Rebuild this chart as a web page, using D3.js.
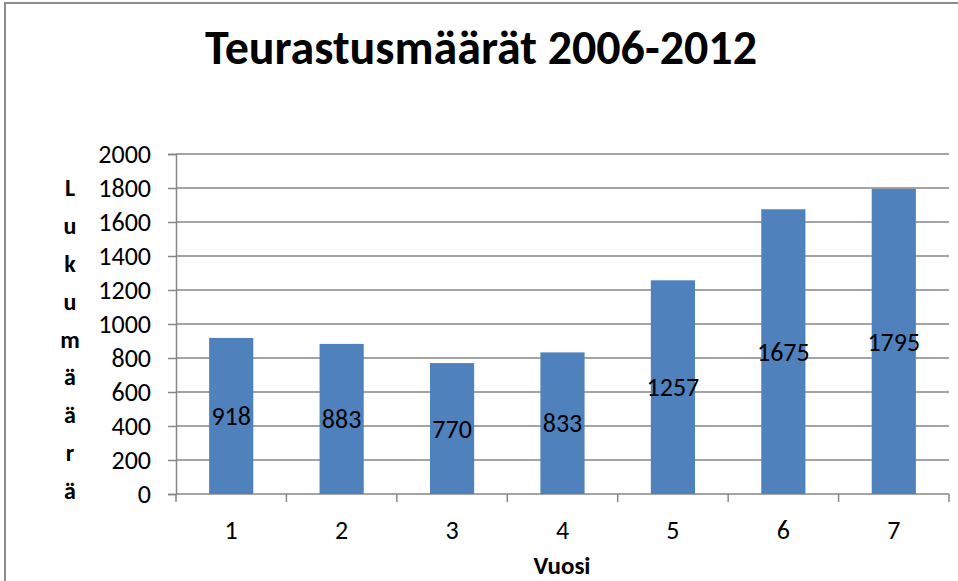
<!DOCTYPE html>
<html>
<head>
<meta charset="utf-8">
<script src="https://cdn.jsdelivr.net/npm/d3@7"></script>
<style>
  body { margin: 0; background: #fff; }
  text { font-family: Carlito, 'Liberation Sans', sans-serif; }
</style>
</head>
<body>
<div id="chart"></div>
<script>
// Data
const years = ['1', '2', '3', '4', '5', '6', '7'];
const counts = [918, 883, 770, 833, 1257, 1675, 1795];
const yTicks = [0, 200, 400, 600, 800, 1000, 1200, 1400, 1600, 1800, 2000];
const yTitleLetters = ['L', 'u', 'k', 'u', 'm', 'ä', 'ä', 'r', 'ä'];

const width = 958;
const height = 581;
const margin = { top: 154, right: 9, bottom: 87, left: 176 };
const gridColor = '#868686';
const font = "Carlito, 'Liberation Sans', sans-serif";

const svg = d3.select('#chart')
  .append('svg')
  .attr('width', width)
  .attr('height', height);

// Outer frame (right and bottom edges fall outside the view)
svg.append('rect')
  .attr('x', 5)
  .attr('y', 3)
  .attr('width', 960)
  .attr('height', 600)
  .attr('fill', 'none')
  .attr('stroke', '#8c8c8c')
  .attr('stroke-width', 2);

// Title
svg.append('text')
  .attr('x', 481)
  .attr('y', 64)
  .attr('text-anchor', 'middle')
  .style('font-size', '48px')
  .style('font-weight', 'bold')
  .text('Teurastusmäärät 2006-2012');

// Scales
const x = d3.scaleBand()
  .domain(years)
  .range([margin.left, width - margin.right]);

const y = d3.scaleLinear()
  .domain([0, 2000])
  .range([height - margin.bottom, margin.top]);

const x0 = margin.left;
const x1 = width - margin.right;
const yBase = y(0);

// Gridlines
svg.selectAll('.grid')
  .data(yTicks.filter(d => d > 0))
  .enter()
  .append('line')
  .attr('class', 'grid')
  .attr('x1', x0)
  .attr('x2', x1)
  .attr('y1', d => y(d))
  .attr('y2', d => y(d))
  .attr('stroke', gridColor)
  .attr('stroke-width', 1.5);

// Y axis
const yAxis = svg.append('g')
  .attr('transform', `translate(${x0},0)`)
  .call(d3.axisLeft(y).tickValues(yTicks).tickFormat(d3.format('d')).tickSize(8).tickPadding(17));
yAxis.attr('font-family', font).attr('font-size', 26);
yAxis.select('.domain').attr('stroke', gridColor).attr('stroke-width', 1.5);
yAxis.selectAll('.tick line').attr('stroke', gridColor).attr('stroke-width', 1.5);
yAxis.selectAll('text').attr('fill', '#000');

// X axis with ticks between categories
svg.append('line')
  .attr('x1', x0)
  .attr('x2', x1)
  .attr('y1', yBase)
  .attr('y2', yBase)
  .attr('stroke', gridColor)
  .attr('stroke-width', 1.5);
svg.selectAll('.xtick')
  .data(years.concat(['end']))
  .enter()
  .append('line')
  .attr('class', 'xtick')
  .attr('x1', (d, i) => x0 + i * x.step())
  .attr('x2', (d, i) => x0 + i * x.step())
  .attr('y1', yBase)
  .attr('y2', yBase + 8)
  .attr('stroke', gridColor)
  .attr('stroke-width', 1.5);
svg.selectAll('.xlabel')
  .data(years)
  .enter()
  .append('text')
  .attr('class', 'xlabel')
  .attr('x', d => x(d) + x.bandwidth() / 2)
  .attr('y', yBase + 36)
  .attr('dy', '0.35em')
  .attr('text-anchor', 'middle')
  .style('font-size', '26px')
  .text(d => d);

// Bars
const barWidth = x.bandwidth() * 0.4;
svg.selectAll('.bar')
  .data(counts)
  .enter()
  .append('rect')
  .attr('class', 'bar')
  .attr('x', (d, i) => x(years[i]) + (x.bandwidth() - barWidth) / 2)
  .attr('y', d => y(d))
  .attr('width', barWidth)
  .attr('height', d => yBase - y(d))
  .attr('fill', '#4f81bd');

// Value labels (centered in bar)
svg.selectAll('.value-label')
  .data(counts)
  .enter()
  .append('text')
  .attr('class', 'value-label')
  .attr('x', (d, i) => x(years[i]) + x.bandwidth() / 2)
  .attr('y', d => (y(d) + yBase) / 2)
  .attr('dy', '0.35em')
  .attr('text-anchor', 'middle')
  .style('font-size', '26px')
  .text(d => d);

// Y axis title, one letter per line
svg.selectAll('.ytitle')
  .data(yTitleLetters)
  .enter()
  .append('text')
  .attr('class', 'ytitle')
  .attr('x', 70)
  .attr('y', (d, i) => 188 + i * 37.8)
  .attr('dy', '0.35em')
  .attr('text-anchor', 'middle')
  .style('font-size', '24px')
  .style('font-weight', 'bold')
  .text(d => d);

// X axis title
svg.append('text')
  .attr('x', 562)
  .attr('y', 565)
  .attr('dy', '0.35em')
  .attr('text-anchor', 'middle')
  .style('font-size', '25px')
  .style('font-weight', 'bold')
  .text('Vuosi');
</script>
</body>
</html>
